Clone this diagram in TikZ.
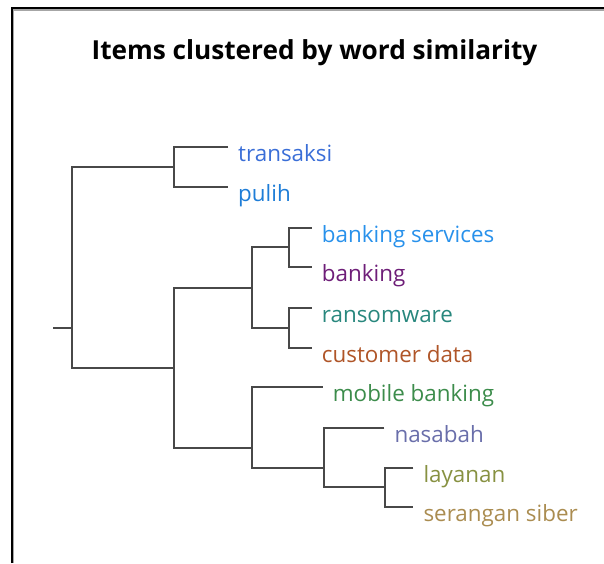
\documentclass[tikz,border=0pt]{standalone}
\usepackage{fontspec}
\setmainfont{Open Sans}
\usetikzlibrary{positioning}
\definecolor{linegray}{RGB}{72,72,72}
\definecolor{ctrans}{RGB}{58,110,215}
\definecolor{cpulih}{RGB}{30,125,215}
\definecolor{cbserv}{RGB}{40,145,235}
\definecolor{cbank}{RGB}{110,30,120}
\definecolor{cransom}{RGB}{40,135,125}
\definecolor{ccust}{RGB}{175,85,40}
\definecolor{cmobile}{RGB}{60,140,75}
\definecolor{cnasabah}{RGB}{105,110,170}
\definecolor{clayanan}{RGB}{135,145,65}
\definecolor{csiber}{RGB}{170,140,80}
\tikzset{
  link/.style={draw=linegray, line width=2pt},
  lbl/.style={font=\fontsize{22.4}{26}\selectfont, inner sep=0pt, anchor=base west},
}

\begin{document}
\begin{tikzpicture}[x=1pt, y=-1pt]
\useasboundingbox (0,0) rectangle (604,563);
\draw[black, line width=2pt](12,563)--(12,8.3)--(604,8.3);
\draw[gray!70, line width=1.2pt](13.6,563)--(13.6,10)--(604,10);
\node[font=\bfseries\fontsize{26.2}{30}\selectfont, anchor=base] (title) at (314.5,59.5) {Items clustered by word similarity};
\foreach \n/\x/\y/\col/\txt in {l1/228/146.7/ctrans/transaksi, l2/228/187.3/cpulih/pulih,
  l3/311.7/227.7/cbserv/banking services, l4/311.7/267/cbank/banking,
  l5/311.7/307.7/cransom/ransomware, l6/311.7/347.7/ccust/customer data,
  l7/322.7/386.7/cmobile/mobile banking, l8/384.3/427.7/cnasabah/nasabah,
  l9/413.3/467.7/clayanan/layanan, l10/413.3/507/csiber/serangan siber}{
	\coordinate (\n) at (\x,\y);
	\node[lbl, text=\col] (\n-lbl) at (\x+10,\y+14.5) {\txt};
}
\coordinate (j1) at (174,167);
\coordinate (j2) at (289.3,247.3);
\coordinate (j3) at (289.3,327.7);
\coordinate (j4) at (252,287.7);
\coordinate (j5) at (385,487.3);
\coordinate (j6) at (324,468.3);
\coordinate (j7) at (252,448.3);
\coordinate (j8) at (174,368);
\coordinate (j9) at (72,327.7);
\coordinate (stub) at (53,327.7);
\foreach \a/\j/\b in {l1/j1/l2, l3/j2/l4, l5/j3/l6, j2/j4/j3, l9/j5/l10, l8/j6/j5, l7/j7/j6, j4/j8/j7, j1/j9/j8}{
	\draw[link](\a) -| (\j) |- (\b);
}
\draw[link](stub)--(j9);
\end{tikzpicture}
\end{document}
